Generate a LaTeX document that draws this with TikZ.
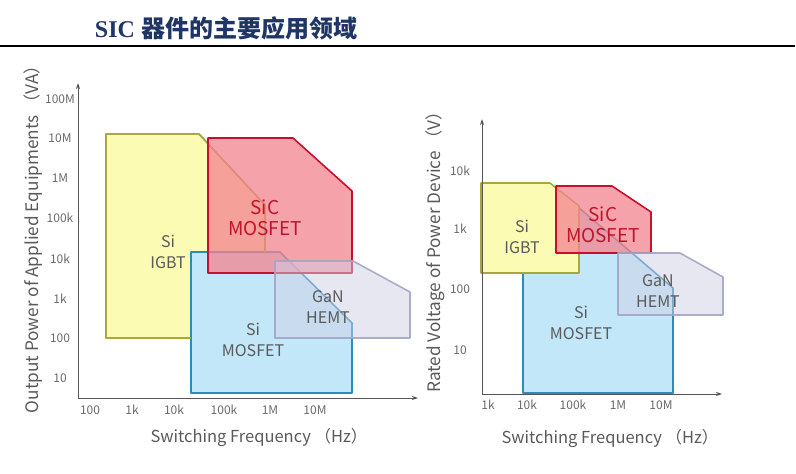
\documentclass[tikz,border=0pt]{standalone}
\usepackage{fontspec}
\setmainfont{Noto Sans CJK SC}
\newfontfamily\titlelatin{Liberation Serif}
\newfontfamily\titlecjk{Noto Sans CJK SC}
\usetikzlibrary{arrows.meta}
\definecolor{navy}{HTML}{1F3566}
\definecolor{axisgray}{HTML}{555555}
\definecolor{tickgray}{HTML}{6A6A6A}
\definecolor{labgray}{HTML}{5A5A5A}
\definecolor{yfill}{HTML}{FBFBB4}
\definecolor{ydraw}{HTML}{A8A83C}
\definecolor{bfill}{HTML}{C2E7F8}
\definecolor{bdraw}{HTML}{2A8DB8}
\definecolor{rfill}{HTML}{F48490}
\definecolor{rdraw}{HTML}{C8102E}
\definecolor{gfill}{HTML}{D0D0E6}
\definecolor{gdraw}{HTML}{A4A4C6}
\definecolor{rtext}{HTML}{C0142E}
\tikzset{
  axisline/.style={draw=axisgray, line width=1pt, -{Stealth[length=6pt,width=4pt]}},
  tick/.style={text=tickgray, font=\fontsize{12}{13}\selectfont, inner sep=0pt},
  axlabel/.style={text=labgray, font=\fontsize{16.5}{18}\selectfont, inner sep=0pt},
  aylabel/.style={text=labgray, font=\fontsize{17.2}{18}\selectfont, inner sep=0pt, rotate=90},
  yregion/.style={fill=yfill, draw=ydraw, line width=1.6pt, line join=round},
  bregion/.style={fill=bfill, draw=bdraw, line width=1.6pt, line join=round},
  rregion/.style={fill=rfill, fill opacity=0.75, draw=rdraw, draw opacity=1, line width=1.6pt, line join=round},
  gregion/.style={fill=gfill, fill opacity=0.5, draw=gdraw, draw opacity=0.9, line width=1.6pt, line join=round},
  devlabel/.style={text=labgray, align=center, inner sep=0pt, font=\fontsize{16}{21}\selectfont},
  redlabel/.style={text=rtext, align=center, inner sep=0pt, font=\fontsize{19}{21}\selectfont},
}
\begin{document}
\begin{tikzpicture}[x=1pt,y=-1pt]
\useasboundingbox (0,0) rectangle (796,474);
\fill[white] (0,0) rectangle (796,474);
% title
\node[text=navy, inner sep=0pt] (title) at (226,28) {\fontsize{24}{26}\selectfont\titlelatin\bfseries SIC \titlecjk\bfseries 器件的主要应用领域};
\coordinate (rl) at (0,45.5);
\coordinate (rr) at (795,45.5);
\draw[line width=2pt, black] (rl) -- (rr);

% ===== left chart =====
\fill[yregion] (106,134) -- (199,134) -- (265,205) -- (265,338) -- (106,338) -- cycle;
\filldraw[bregion] (191,252) -- (280,252) -- (352,323) -- (352,393) -- (191,393) -- cycle;
\draw[yregion, fill=none] (191,338) -- (106,338) -- (106,134) -- (199,134) -- (265,205) -- (265,252);
\filldraw[rregion] (208,138) -- (293,138) -- (352,191) -- (352,273) -- (208,273) -- cycle;
\filldraw[gregion] (275,261) -- (353,261) -- (410,292) -- (410,338) -- (275,338) -- cycle;

\coordinate (lo) at (78,398);
\coordinate (ly) at (78,83);
\coordinate (lx) at (418,398);
\draw[axisline] (lo) -- (ly);
\draw[axisline] (lo) -- (lx);

\node[tick] (ly1) at (60,99) {100M};
\node[tick] (ly2) at (60,138) {10M};
\node[tick] (ly3) at (60,178) {1M};
\node[tick] (ly4) at (60,218) {100k};
\node[tick] (ly5) at (60,259) {10k};
\node[tick] (ly6) at (60,299) {1k};
\node[tick] (ly7) at (60,338) {100};
\node[tick] (ly8) at (60,378) {10};

\node[tick] (lx1) at (90,410) {100};
\node[tick] (lx2) at (132,410) {1k};
\node[tick] (lx3) at (174,410) {10k};
\node[tick] (lx4) at (224,410) {100k};
\node[tick] (lx5) at (270,410) {1M};
\node[tick] (lx6) at (315,410) {10M};

\node[axlabel] (lxl) at (259,437) {Switching Frequency （Hz）};
\node[aylabel] (lyl) at (33,235) {Output Power of Applied Equipments （VA）};

\node[devlabel] (l1) at (168,252) {Si\\IGBT};
\node[redlabel] (l2) at (265,218) {SiC\\MOSFET};
\node[devlabel] (l3) at (253,340) {Si\\MOSFET};
\node[devlabel] (l4) at (328,307) {GaN\\HEMT};

% ===== right chart =====
\filldraw[bregion] (523,207) -- (578,207) -- (673,288) -- (673,393) -- (523,393) -- cycle;
\filldraw[yregion] (481,183) -- (550,183) -- (579,206) -- (579,273) -- (481,273) -- cycle;
\filldraw[rregion] (556,186) -- (612,186) -- (651,212) -- (651,253) -- (556,253) -- cycle;
\filldraw[gregion] (618,253) -- (680,253) -- (723,277) -- (723,315) -- (618,315) -- cycle;

\coordinate (ro) at (482,394);
\coordinate (ry) at (482,119);
\coordinate (rx) at (722,394);
\draw[axisline] (ro) -- (ry);
\draw[axisline] (ro) -- (rx);

\node[tick] (ry1) at (460,171) {10k};
\node[tick] (ry2) at (460,229) {1k};
\node[tick] (ry3) at (460,289) {100};
\node[tick] (ry4) at (460,350) {10};

\node[tick] (rx1) at (488,405) {1k};
\node[tick] (rx2) at (527,405) {10k};
\node[tick] (rx3) at (573,405) {100k};
\node[tick] (rx4) at (618,405) {1M};
\node[tick] (rx5) at (661,405) {10M};

\node[axlabel] (rxl) at (610,438) {Switching Frequency （Hz）};
\node[aylabel] (ryl) at (435,248) {Rated Voltage of Power Device （V）};

\node[devlabel] (r1) at (522,237) {Si\\IGBT};
\node[redlabel] (r2) at (603,225) {SiC\\MOSFET};
\node[devlabel] (r3) at (581,323) {Si\\MOSFET};
\node[devlabel] (r4) at (658,291) {GaN\\HEMT};
\end{tikzpicture}
\end{document}
